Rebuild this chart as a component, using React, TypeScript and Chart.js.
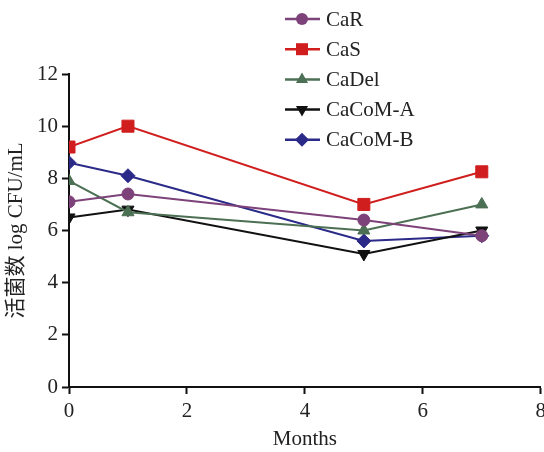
import React, { useEffect, useRef } from "react";
import { Chart, registerables } from "chart.js";

Chart.register(...registerables);

const months = [0, 1, 5, 7];
const seriesNames = ["CaR", "CaS", "CaDel", "CaCoM-A", "CaCoM-B"];
const caR = [7.1, 7.4, 6.4, 5.8];
const caS = [9.2, 10.0, 7.0, 8.25];
const caDel = [7.9, 6.7, 6.0, 7.0];
const caComA = [6.5, 6.8, 5.1, 6.0];
const caComB = [8.6, 8.1, 5.6, 5.8];
const xTicks = [0, 2, 4, 6, 8];
const yTicks = [0, 2, 4, 6, 8, 10, 12];

const colors = ["#7d4279", "#d01e1e", "#4c7053", "#111111", "#2b2a88"];
const styles: any[] = ["circle", "rect", "triangle", "triangle", "rectRot"];
const rotations = [0, 0, 0, 180, 0];
const radii = [6, 8.5, 7, 7, 7];

const FONT = "'Liberation Serif', 'Times New Roman', serif";
const CANVAS_W = 551;

function drawMarker(ctx: CanvasRenderingContext2D, style: string, rot: number, x: number, y: number) {
  ctx.save();
  ctx.translate(x, y);
  ctx.rotate((rot * Math.PI) / 180);
  ctx.beginPath();
  if (style === "circle") {
    ctx.arc(0, 0, 6, 0, Math.PI * 2);
  } else if (style === "rect") {
    ctx.rect(-6, -6, 12, 12);
  } else if (style === "triangle") {
    const r = 7;
    ctx.moveTo(0, -r);
    ctx.lineTo(r * 0.866, r * 0.5);
    ctx.lineTo(-r * 0.866, r * 0.5);
    ctx.closePath();
  } else if (style === "rectRot") {
    const r = 7;
    ctx.moveTo(0, -r);
    ctx.lineTo(r, 0);
    ctx.lineTo(0, r);
    ctx.lineTo(-r, 0);
    ctx.closePath();
  }
  ctx.fill();
  ctx.restore();
}

const legendPlugin = {
  id: "customLegend",
  afterDraw(chart: any) {
    const ctx = chart.ctx as CanvasRenderingContext2D;
    ctx.save();
    chart.data.datasets.forEach((ds: any, i: number) => {
      const y = 19 + i * 30.2;
      ctx.strokeStyle = ds.borderColor;
      ctx.fillStyle = ds.borderColor;
      ctx.lineWidth = 2.5;
      ctx.beginPath();
      ctx.moveTo(285, y);
      ctx.lineTo(320, y);
      ctx.stroke();
      drawMarker(ctx, styles[i], rotations[i], 302, y);
      ctx.fillStyle = "#222";
      ctx.font = `21px ${FONT}`;
      ctx.textBaseline = "middle";
      ctx.textAlign = "left";
      ctx.fillText(ds.label, 326, y + 1);
    });
    ctx.restore();
  },
};

export default function App() {
  const ref = useRef<HTMLCanvasElement>(null);
  useEffect(() => {
    if (!ref.current) return;
    const all = [caR, caS, caDel, caComA, caComB];
    const chart = new Chart(ref.current, {
      type: "scatter",
      data: {
        datasets: all.map((vals, i) => ({
          label: seriesNames[i],
          data: months.map((m, j) => ({ x: m, y: vals[j] })),
          showLine: true,
          borderColor: colors[i],
          backgroundColor: colors[i],
          borderWidth: 2,
          pointStyle: styles[i],
          pointRotation: rotations[i],
          pointRadius: radii[i],
          pointBorderWidth: 1,
        })),
      },
      options: {
        animation: false,
        responsive: false,
        maintainAspectRatio: false,
        layout: { padding: { top: 74, right: 0, left: 0, bottom: 0 } },
        plugins: {
          legend: { display: false },
          tooltip: { enabled: false },
        },
        scales: {
          x: {
            type: "linear",
            min: 0,
            max: 8,
            afterBuildTicks(scale: any) {
              scale.ticks = xTicks.map((v) => ({ value: v }));
            },
            afterFit(scale: any) {
              scale.height = 65;
            },
            border: { color: "#111", width: 2 },
            grid: {
              drawOnChartArea: false,
              drawTicks: true,
              tickLength: 7,
              tickWidth: 2,
              tickColor: "#111",
            },
            ticks: {
              color: "#222",
              font: { family: FONT, size: 21 },
              padding: 5,
              maxRotation: 0,
            },
            title: {
              display: true,
              text: "Months",
              color: "#222",
              font: { family: FONT, size: 21 },
              padding: { top: 0, bottom: 0 },
            },
          },
          y: {
            type: "linear",
            min: 0,
            max: 12,
            afterBuildTicks(scale: any) {
              scale.ticks = yTicks.map((v) => ({ value: v }));
            },
            afterFit(scale: any) {
              scale.width = 69;
            },
            border: { color: "#111", width: 2 },
            grid: {
              drawOnChartArea: false,
              drawTicks: true,
              tickLength: 7,
              tickWidth: 2,
              tickColor: "#111",
            },
            ticks: {
              color: "#222",
              font: { family: FONT, size: 21 },
              padding: 4,
            },
            title: {
              display: true,
              text: "活菌数 log CFU/mL",
              color: "#222",
              font: { family: FONT + ", 'Noto Sans CJK SC'", size: 21 },
              padding: { top: 4, bottom: 0 },
            },
          },
        },
      },
      plugins: [legendPlugin],
    });
    return () => chart.destroy();
  }, []);
  return (
    <div style={{ position: "fixed", left: 0, top: 0, width: 544, height: 452, overflow: "hidden", background: "#fff" }}>
      <canvas ref={ref} width={CANVAS_W} height={452} style={{ width: CANVAS_W, height: 452, display: "block" }} />
    </div>
  );
}
